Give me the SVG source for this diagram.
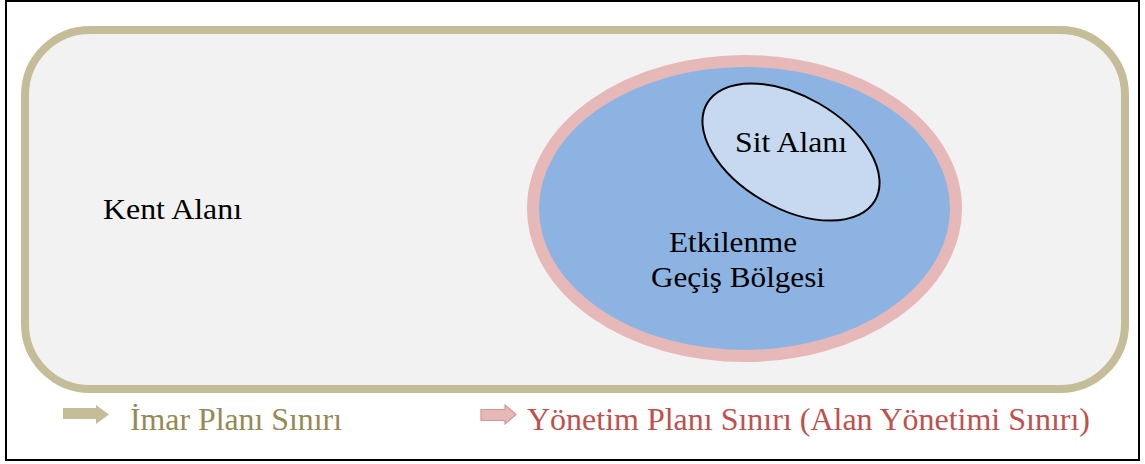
<svg xmlns="http://www.w3.org/2000/svg" width="1145" height="464" viewBox="0 0 1145 464">
<style>
.lbl{font-family:'Liberation Serif','DejaVu Serif',serif;font-size:30px;fill:#000}
.leg{font-family:'Liberation Serif','DejaVu Serif',serif;font-size:32px}
</style>
<rect x="0" y="0" width="1145" height="464" fill="#fff"/>
<rect x="6" y="1" width="1133" height="459" fill="#fff" stroke="#000" stroke-width="2"/>
<g id="kent">
<rect x="25" y="30" width="1100" height="359" rx="65" ry="65" fill="#F2F2F2" stroke="#C4BD97" stroke-width="8"/>
<text class="lbl" font-family="Liberation Serif, serif" x="103" y="219" textLength="139" lengthAdjust="spacingAndGlyphs">Kent Alanı</text>
</g>
<g id="etkilenme">
<ellipse cx="744.5" cy="208.5" rx="211.5" ry="147.5" fill="#8DB3E2" stroke="#E6B9B8" stroke-width="12"/>
<text class="lbl" font-family="Liberation Serif, serif" x="669" y="252" textLength="128" lengthAdjust="spacingAndGlyphs">Etkilenme</text>
<text class="lbl" font-family="Liberation Serif, serif" x="651" y="287" textLength="174" lengthAdjust="spacingAndGlyphs">Geçiş Bölgesi</text>
</g>
<g id="sit">
<ellipse cx="791" cy="152" rx="97" ry="56" transform="rotate(30 791 152)" fill="#C6D9F1" stroke="#000" stroke-width="2"/>
<text class="lbl" font-family="Liberation Serif, serif" x="735" y="152" textLength="112" lengthAdjust="spacingAndGlyphs">Sit Alanı</text>
</g>
<g id="legend-imar">
<polygon points="63,408 96,408 96,405 109,414.5 96,424 96,419 63,419" fill="#C4BD97"/>
<text class="leg" font-family="Liberation Serif, serif" x="130" y="430" fill="#948A54" textLength="212" lengthAdjust="spacingAndGlyphs">İmar Planı Sınırı</text>
</g>
<g id="legend-yonetim">
<polygon points="481,409.5 505,409.5 505,405 516,414.5 505,424 505,420.5 481,420.5" fill="#E6B9B8" stroke="#D99594" stroke-width="1.2"/>
<text class="leg" font-family="Liberation Serif, serif" x="527" y="430" fill="#C0504D" textLength="563" lengthAdjust="spacingAndGlyphs">Yönetim Planı Sınırı (Alan Yönetimi Sınırı)</text>
</g>
<g id="connectors"/>
</svg>
